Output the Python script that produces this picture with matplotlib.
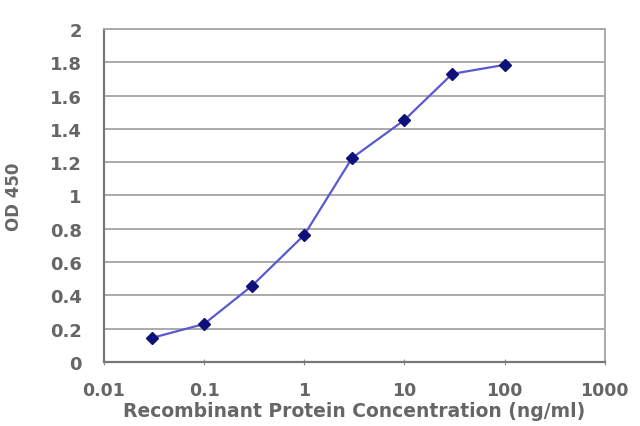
import matplotlib
matplotlib.use("Agg")
import matplotlib.pyplot as plt
from matplotlib.ticker import FixedLocator, FixedFormatter

# concentration (ng/ml) and OD 450
conc = [0.03, 0.1, 0.3, 1, 3, 10, 30, 100]
od450 = [0.144, 0.228, 0.457, 0.763, 1.225, 1.453, 1.73, 1.784]

x_ticks = [0.01, 0.1, 1, 10, 100, 1000]
x_labels = ["0.01", "0.1", "1", "10", "100", "1000"]
y_ticks = [0, 0.2, 0.4, 0.6, 0.8, 1, 1.2, 1.4, 1.6, 1.8, 2]
y_labels = ["0", "0.2", "0.4", "0.6", "0.8", "1", "1.2", "1.4", "1.6", "1.8", "2"]

plt.rcParams['font.family'] = ['DejaVu Sans']

txt_color = '#666666'

fig = plt.figure(figsize=(6.4, 4.27), dpi=100)
ax = fig.add_axes([0.1625, 0.150, 0.7825, 0.780])

ax.plot(conc, od450, color='#5a5ad0', lw=1.6, marker='D', ms=6,
        mfc='#10107a', mec='#10107a', zorder=3)

ax.set_xscale('log')
ax.set_xlim(0.01, 1000)
ax.set_ylim(0, 2)
ax.xaxis.set_major_locator(FixedLocator(x_ticks))
ax.xaxis.set_major_formatter(FixedFormatter(x_labels))
ax.xaxis.set_minor_locator(FixedLocator([]))
ax.yaxis.set_major_locator(FixedLocator(y_ticks))
ax.yaxis.set_major_formatter(FixedFormatter(y_labels))

ax.grid(axis='y', color='#aaaaaa', lw=1.4)
ax.set_axisbelow(True)
for s in ['top', 'right']:
    ax.spines[s].set_color('#aaaaaa')
    ax.spines[s].set_linewidth(1.4)
for s in ['left', 'bottom']:
    ax.spines[s].set_color('#777777')
    ax.spines[s].set_linewidth(1.6)

ax.tick_params(axis='x', direction='inout', length=4, color='#909090',
               labelsize=12.5, labelcolor=txt_color, pad=12)
ax.tick_params(axis='y', length=0, labelsize=13, labelcolor=txt_color, pad=16)
for lab in ax.get_xticklabels() + ax.get_yticklabels():
    lab.set_fontweight('bold')

ax.set_xlabel('Recombinant Protein Concentration (ng/ml)', fontsize=13.5,
              fontweight='bold', color=txt_color, labelpad=1)
ax.set_ylabel('OD 450', fontsize=12, fontweight='bold', color=txt_color,
              labelpad=19)

fig.savefig('out.png', dpi=100)
